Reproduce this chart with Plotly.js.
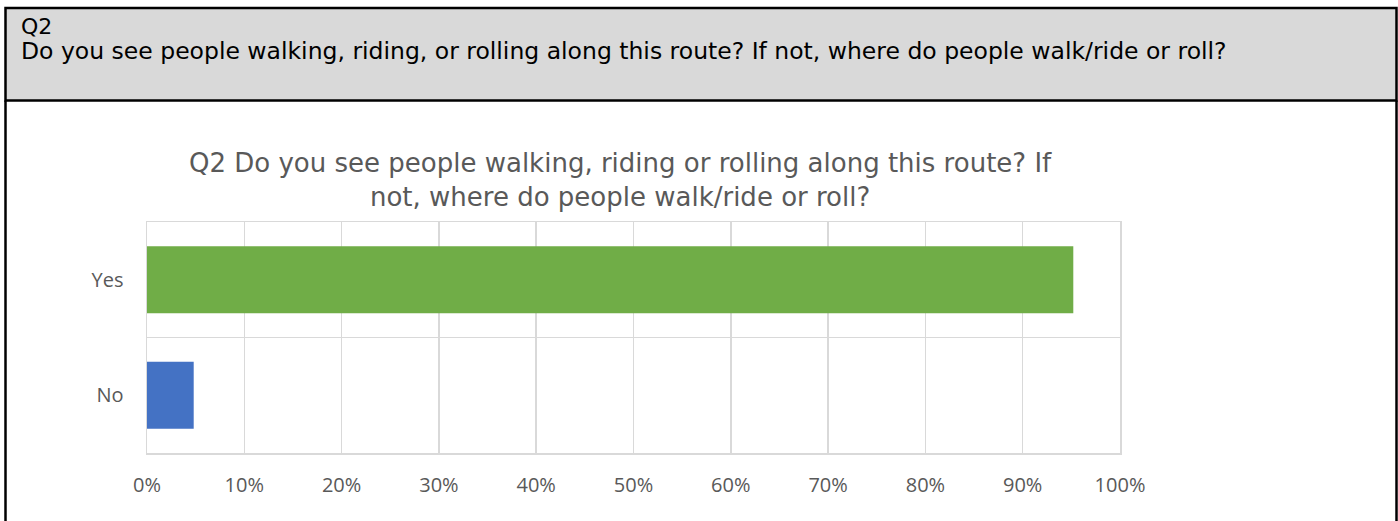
<!DOCTYPE html>
<html><head><meta charset="utf-8">
<script src="https://cdn.plot.ly/plotly-3.0.1.min.js"></script>
<style>html,body{margin:0;padding:0;background:#fff;}#c{width:1398px;height:521px;}</style>
</head><body><div id="c"></div>
<script>
const categories = ['No', 'Yes'];
const values = [4.8, 95.2];
const barColors = ['#4472C4', '#70AD47'];
const xTickVals = [0, 10, 20, 30, 40, 50, 60, 70, 80, 90, 100];
const xTickText = ['0%', '10%', '20%', '30%', '40%', '50%', '60%', '70%', '80%', '90%', '100%'];
const headerLine1 = 'Q2';
const headerLine2 = 'Do you see people walking, riding, or rolling along this route? If not, where do people walk/ride or roll?';
const chartTitle = 'Q2 Do you see people walking, riding or rolling along this route? If<br>not, where do people walk/ride or roll?';

const W = 1398, H = 521;
const L = 147, R = 1120, T = 222, B = 453;
const px = x => (x - L) / (R - L);
const py = y => (B - y) / (B - T);

const layout = {
  width: W, height: H,
  margin: {l: L, r: W - R, t: T, b: H - B, pad: 0},
  paper_bgcolor: '#ffffff', plot_bgcolor: '#ffffff',
  showlegend: false,
  bargap: 0.42,
  font: {family: 'Open Sans, sans-serif', color: '#595959'},
  xaxis: {
    range: [0, 100], tickvals: xTickVals, ticktext: xTickText,
    showgrid: true, gridcolor: '#D9D9D9', gridwidth: 1.5,
    zeroline: false, showline: true, linecolor: '#D9D9D9', linewidth: 1.5, mirror: true,
    ticks: '', ticklabelstandoff: 13,
    tickfont: {size: 20, color: '#595959', family: 'Open Sans, sans-serif'},
    fixedrange: true
  },
  yaxis: {
    type: 'category', categoryorder: 'array', categoryarray: categories,
    tickson: 'boundaries', showgrid: true, gridcolor: '#D9D9D9', gridwidth: 1.5,
    showline: true, linecolor: '#D9D9D9', linewidth: 1.5, mirror: true,
    ticks: '', ticklabelstandoff: 18,
    tickfont: {size: 20, color: '#595959', family: 'Open Sans, sans-serif'},
    fixedrange: true
  },
  shapes: [
    {type: 'rect', xref: 'paper', yref: 'paper', x0: px(5.5), x1: px(1396.5), y0: py(8), y1: py(100.5),
     fillcolor: '#D9D9D9', line: {color: '#000000', width: 2.5}, layer: 'below'},
    {type: 'line', xref: 'paper', yref: 'paper', x0: px(5.5), x1: px(5.5), y0: py(100.5), y1: py(530),
     line: {color: '#000000', width: 2.5}},
    {type: 'line', xref: 'paper', yref: 'paper', x0: px(1396.5), x1: px(1396.5), y0: py(100.5), y1: py(530),
     line: {color: '#000000', width: 2.5}}
  ],
  annotations: [
    {text: headerLine1, xref: 'paper', yref: 'paper', x: px(19), y: py(26), xanchor: 'left', yanchor: 'middle',
     showarrow: false, font: {family: 'DejaVu Sans, sans-serif', size: 22, color: '#000000'}},
    {text: headerLine2, xref: 'paper', yref: 'paper', x: px(19), y: py(51), xanchor: 'left', yanchor: 'middle',
     showarrow: false, font: {family: 'DejaVu Sans, sans-serif', size: 23.5, color: '#000000'}},
    {text: chartTitle, xref: 'paper', yref: 'paper', x: px(620), y: py(146), xanchor: 'center', yanchor: 'top',
     showarrow: false, align: 'center', font: {family: 'DejaVu Sans, sans-serif', size: 26, color: '#595959'}}
  ]
};

const data = [{
  type: 'bar', orientation: 'h', y: categories, x: values,
  marker: {color: barColors},
  hoverinfo: 'none'
}];

Plotly.newPlot('c', data, layout, {staticPlot: true, displayModeBar: false});
</script></body></html>
